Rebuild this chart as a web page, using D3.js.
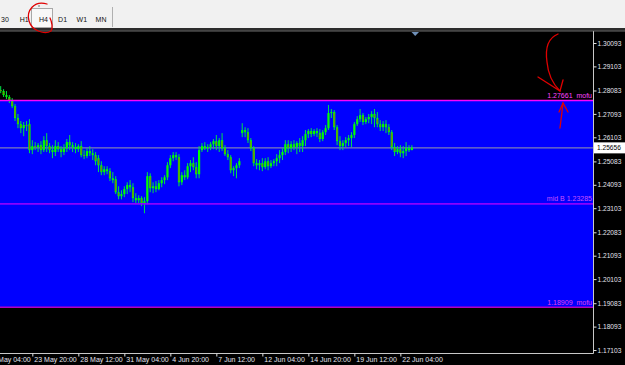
<!DOCTYPE html>
<html>
<head>
<meta charset="utf-8">
<script src="https://cdn.jsdelivr.net/npm/d3@7"></script>
<style>
  body { margin: 0; background: #000; overflow: hidden; }
  svg { display: block; }
  text { font-family: "Liberation Sans", Arial, sans-serif; }
</style>
</head>
<body>
<div id="chart"></div>
<script>
// H4 bars, [open, high, low, close]
const candles = [
  [1.2810, 1.2827, 1.2797, 1.2806], [1.2806, 1.2814, 1.2781, 1.2789], [1.2789, 1.2806, 1.2772, 1.2781],
  [1.2781, 1.2789, 1.2755, 1.2764], [1.2764, 1.2776, 1.2734, 1.2742], [1.2742, 1.2751, 1.2679, 1.2692],
  [1.2692, 1.2709, 1.2649, 1.2666], [1.2666, 1.2679, 1.2628, 1.2649], [1.2649, 1.2675, 1.2615, 1.2662],
  [1.2662, 1.2679, 1.2637, 1.2658], [1.2666, 1.2687, 1.2543, 1.2556], [1.2556, 1.2598, 1.2539, 1.2573],
  [1.2573, 1.2590, 1.2556, 1.2569], [1.2569, 1.2586, 1.2548, 1.2577], [1.2577, 1.2594, 1.2539, 1.2556],
  [1.2556, 1.2615, 1.2548, 1.2598], [1.2598, 1.2628, 1.2548, 1.2573], [1.2573, 1.2586, 1.2543, 1.2556],
  [1.2556, 1.2577, 1.2522, 1.2548], [1.2548, 1.2598, 1.2531, 1.2573], [1.2573, 1.2590, 1.2548, 1.2560],
  [1.2560, 1.2573, 1.2526, 1.2548], [1.2548, 1.2581, 1.2535, 1.2564], [1.2564, 1.2603, 1.2548, 1.2590],
  [1.2590, 1.2620, 1.2556, 1.2577], [1.2577, 1.2590, 1.2548, 1.2569], [1.2569, 1.2586, 1.2543, 1.2560],
  [1.2560, 1.2581, 1.2548, 1.2573], [1.2573, 1.2594, 1.2526, 1.2535], [1.2535, 1.2556, 1.2518, 1.2531],
  [1.2531, 1.2564, 1.2522, 1.2552], [1.2552, 1.2573, 1.2531, 1.2543], [1.2543, 1.2560, 1.2514, 1.2535],
  [1.2535, 1.2548, 1.2492, 1.2509], [1.2522, 1.2535, 1.2463, 1.2492], [1.2492, 1.2509, 1.2450, 1.2463],
  [1.2463, 1.2488, 1.2450, 1.2475], [1.2475, 1.2488, 1.2454, 1.2467], [1.2467, 1.2480, 1.2425, 1.2437],
  [1.2437, 1.2463, 1.2416, 1.2429], [1.2433, 1.2446, 1.2370, 1.2378], [1.2378, 1.2403, 1.2348, 1.2361],
  [1.2361, 1.2386, 1.2348, 1.2370], [1.2370, 1.2403, 1.2357, 1.2391], [1.2391, 1.2420, 1.2370, 1.2408],
  [1.2408, 1.2429, 1.2378, 1.2399], [1.2399, 1.2416, 1.2336, 1.2353], [1.2353, 1.2374, 1.2331, 1.2344],
  [1.2344, 1.2365, 1.2327, 1.2353], [1.2353, 1.2361, 1.2319, 1.2331], [1.2331, 1.2357, 1.2289, 1.2340],
  [1.2340, 1.2463, 1.2327, 1.2446], [1.2446, 1.2458, 1.2378, 1.2395], [1.2395, 1.2420, 1.2374, 1.2403],
  [1.2403, 1.2425, 1.2378, 1.2391], [1.2391, 1.2429, 1.2386, 1.2416], [1.2416, 1.2441, 1.2399, 1.2429],
  [1.2429, 1.2450, 1.2412, 1.2441], [1.2441, 1.2505, 1.2429, 1.2492], [1.2492, 1.2535, 1.2480, 1.2522],
  [1.2522, 1.2548, 1.2509, 1.2535], [1.2535, 1.2548, 1.2514, 1.2526], [1.2526, 1.2539, 1.2403, 1.2420],
  [1.2420, 1.2463, 1.2408, 1.2450], [1.2450, 1.2471, 1.2429, 1.2441], [1.2441, 1.2501, 1.2433, 1.2488],
  [1.2488, 1.2514, 1.2463, 1.2501], [1.2501, 1.2526, 1.2471, 1.2484], [1.2484, 1.2505, 1.2437, 1.2454],
  [1.2454, 1.2573, 1.2437, 1.2556], [1.2556, 1.2586, 1.2548, 1.2573], [1.2573, 1.2590, 1.2556, 1.2564],
  [1.2564, 1.2581, 1.2548, 1.2569], [1.2569, 1.2590, 1.2556, 1.2581], [1.2581, 1.2603, 1.2560, 1.2594],
  [1.2594, 1.2620, 1.2556, 1.2573], [1.2573, 1.2607, 1.2548, 1.2598], [1.2598, 1.2628, 1.2552, 1.2564],
  [1.2564, 1.2577, 1.2531, 1.2539], [1.2539, 1.2556, 1.2514, 1.2526], [1.2526, 1.2535, 1.2458, 1.2471],
  [1.2471, 1.2488, 1.2446, 1.2480], [1.2480, 1.2501, 1.2437, 1.2492], [1.2492, 1.2522, 1.2480, 1.2509],
  [1.2628, 1.2670, 1.2611, 1.2641], [1.2641, 1.2653, 1.2611, 1.2632], [1.2632, 1.2649, 1.2586, 1.2598],
  [1.2598, 1.2607, 1.2552, 1.2564], [1.2564, 1.2573, 1.2488, 1.2501], [1.2501, 1.2518, 1.2475, 1.2492],
  [1.2492, 1.2514, 1.2471, 1.2501], [1.2501, 1.2522, 1.2467, 1.2484], [1.2484, 1.2522, 1.2475, 1.2509],
  [1.2509, 1.2526, 1.2471, 1.2488], [1.2488, 1.2514, 1.2480, 1.2501], [1.2501, 1.2518, 1.2488, 1.2509],
  [1.2509, 1.2539, 1.2488, 1.2522], [1.2522, 1.2556, 1.2501, 1.2535], [1.2535, 1.2564, 1.2514, 1.2548],
  [1.2548, 1.2598, 1.2535, 1.2581], [1.2581, 1.2598, 1.2543, 1.2564], [1.2564, 1.2594, 1.2548, 1.2581],
  [1.2581, 1.2598, 1.2556, 1.2569], [1.2569, 1.2594, 1.2539, 1.2586], [1.2586, 1.2607, 1.2548, 1.2573],
  [1.2573, 1.2615, 1.2548, 1.2598], [1.2598, 1.2641, 1.2573, 1.2624], [1.2624, 1.2645, 1.2607, 1.2637],
  [1.2637, 1.2649, 1.2611, 1.2624], [1.2624, 1.2645, 1.2615, 1.2637], [1.2637, 1.2649, 1.2611, 1.2628],
  [1.2628, 1.2645, 1.2590, 1.2603], [1.2603, 1.2641, 1.2594, 1.2632], [1.2632, 1.2662, 1.2620, 1.2649],
  [1.2649, 1.2747, 1.2641, 1.2713], [1.2713, 1.2730, 1.2692, 1.2717], [1.2717, 1.2725, 1.2641, 1.2653],
  [1.2653, 1.2662, 1.2577, 1.2594], [1.2594, 1.2615, 1.2556, 1.2573], [1.2573, 1.2598, 1.2556, 1.2586],
  [1.2586, 1.2611, 1.2569, 1.2598], [1.2598, 1.2620, 1.2573, 1.2607], [1.2607, 1.2632, 1.2569, 1.2620],
  [1.2620, 1.2675, 1.2607, 1.2666], [1.2666, 1.2700, 1.2658, 1.2687], [1.2687, 1.2730, 1.2675, 1.2704],
  [1.2704, 1.2713, 1.2662, 1.2675], [1.2675, 1.2696, 1.2666, 1.2687], [1.2687, 1.2709, 1.2670, 1.2696],
  [1.2696, 1.2721, 1.2666, 1.2709], [1.2709, 1.2730, 1.2653, 1.2692], [1.2692, 1.2717, 1.2653, 1.2666],
  [1.2666, 1.2683, 1.2637, 1.2653], [1.2653, 1.2679, 1.2637, 1.2666], [1.2666, 1.2683, 1.2628, 1.2653],
  [1.2653, 1.2666, 1.2620, 1.2632], [1.2632, 1.2641, 1.2556, 1.2569], [1.2569, 1.2586, 1.2531, 1.2548],
  [1.2548, 1.2573, 1.2539, 1.2560], [1.2560, 1.2577, 1.2526, 1.2543], [1.2543, 1.2573, 1.2522, 1.2552],
  [1.2552, 1.2590, 1.2531, 1.2564], [1.2564, 1.2577, 1.2548, 1.2556], [1.2556, 1.2577, 1.2556, 1.2566]
];

const priceTicks = [1.30093, 1.29103, 1.28083, 1.27093, 1.26103, 1.25083, 1.24093,
  1.23103, 1.22083, 1.21093, 1.20103, 1.19083, 1.18093, 1.17103];

// bar index of each time label (16 bars apart)
const timeTickBars = [-5, 11, 27, 43, 59, 75, 91, 107, 123, 139];
const timeTickLabels = ["21 May 04:00", "23 May 20:00", "28 May 12:00", "31 May 04:00", "4 Jun 20:00",
  "7 Jun 12:00", "12 Jun 04:00", "14 Jun 20:00", "19 Jun 12:00", "22 Jun 04:00"];

// horizontal objects: top of box, middle, bottom of box
const levelPrices = [1.27661, 1.23285, 1.18909];
const levelLabels = ["1.27661  mofu", "mid B 1.23285", "1.18909  mofu"];

const lastPrice = 1.25656;
const periods = ["30", "H1", "H4", "D1", "W1", "MN"];

const W = 625, H = 365;
const plot = { left: 0, right: 593, top: 31, bottom: 353 };

const svg = d3.select('#chart').append('svg')
  .attr('width', W).attr('height', H);

svg.append('rect').attr('width', W).attr('height', H).attr('fill', '#000');

const x = d3.scaleLinear().domain([0, 206]).range([0.7, 593]);
const y = d3.scaleLinear().domain([1.17103, 1.30093]).range([350, 43]);

svg.append('clipPath').attr('id', 'plotclip')
  .append('rect')
  .attr('x', plot.left).attr('y', plot.top)
  .attr('width', plot.right - plot.left).attr('height', plot.bottom - plot.top);

const g = svg.append('g').attr('clip-path', 'url(#plotclip)');

// blue rectangle between the two outer levels
g.append('rect')
  .attr('x', plot.left)
  .attr('y', y(levelPrices[0]))
  .attr('width', plot.right - plot.left)
  .attr('height', y(levelPrices[2]) - y(levelPrices[0]))
  .attr('fill', '#0000ff');

// bid line
g.append('line')
  .attr('x1', plot.left).attr('x2', plot.right)
  .attr('y1', y(lastPrice)).attr('y2', y(lastPrice))
  .attr('stroke', '#7c7cb8').attr('stroke-width', 1.4);

// candles
const barW = 2.2;
const bars = g.append('g').selectAll('g').data(candles).join('g');
bars.append('line')
  .attr('x1', (d, i) => x(i)).attr('x2', (d, i) => x(i))
  .attr('y1', d => y(d[1])).attr('y2', d => y(d[2]))
  .attr('stroke', '#00e048').attr('stroke-width', 1);
bars.append('rect')
  .attr('x', (d, i) => x(i) - barW / 2)
  .attr('width', barW)
  .attr('y', d => y(Math.max(d[0], d[3])))
  .attr('height', d => Math.max(1, Math.abs(y(d[0]) - y(d[3]))))
  .attr('fill', '#00ff00');
bars.filter(d => d[3] < d[0]).append('line')
  .attr('x1', d => x(candles.indexOf(d)))
  .attr('x2', d => x(candles.indexOf(d)))
  .attr('y1', d => y(d[0]) + 1).attr('y2', d => y(d[3]) - 1)
  .attr('stroke', '#e03000').attr('stroke-width', 0.8).attr('opacity', 0.85);

// level lines and their descriptions
const levelColors = ['#ff00ff', '#8c00ff', '#b400c0'];
const labelColors = ['#ff44ff', '#c850ff', '#e040e8'];
levelPrices.forEach((p, i) => {
  g.append('line')
    .attr('x1', plot.left).attr('x2', plot.right)
    .attr('y1', y(p)).attr('y2', y(p))
    .attr('stroke', levelColors[i]).attr('stroke-width', 1.6);
  g.append('text')
    .attr('x', plot.right - 1).attr('y', y(p) - 2.5)
    .attr('text-anchor', 'end')
    .attr('font-size', 7)
    .attr('fill', labelColors[i])
    .attr('xml:space', 'preserve')
    .text(levelLabels[i]);
});

// frame
svg.append('path')
  .attr('d', `M${plot.right + 0.5},${plot.top}V${plot.bottom + 0.5}H0`)
  .attr('fill', 'none').attr('stroke', '#c8c8c8').attr('stroke-width', 1);

// price axis
const yAxis = svg.append('g')
  .attr('transform', `translate(${plot.right + 0.5},0)`)
  .call(d3.axisRight(y).tickValues(priceTicks).tickFormat(d3.format('.5f')).tickSize(3).tickPadding(1));
yAxis.select('.domain').remove();
yAxis.selectAll('line').attr('stroke', '#e0e0e0');
yAxis.selectAll('text').attr('fill', '#e4e4ee').attr('font-size', 6.6).attr('font-family', null);

// last price tag
svg.append('rect')
  .attr('x', plot.right + 1).attr('y', y(lastPrice) - 5.5)
  .attr('width', W - plot.right - 1).attr('height', 11)
  .attr('fill', '#fff');
svg.append('text')
  .attr('x', plot.right + 4).attr('y', y(lastPrice)).attr('dy', '0.32em')
  .attr('font-size', 6.6).attr('fill', '#000')
  .text(d3.format('.5f')(lastPrice));

// time axis
const xAxis = svg.append('g')
  .attr('transform', `translate(0,${plot.bottom + 0.5})`)
  .call(d3.axisBottom(x).tickValues(timeTickBars)
    .tickFormat((d, i) => timeTickLabels[i]).tickSize(3).tickPadding(1));
xAxis.select('.domain').remove();
xAxis.selectAll('line').attr('stroke', '#e0e0e0');
xAxis.selectAll('text')
  .attr('text-anchor', 'start').attr('dx', 1.5)
  .attr('fill', '#e4e4ee').attr('font-size', 7).attr('font-family', null);

// toolbar
svg.append('rect').attr('width', W).attr('height', 28).attr('fill', '#f1f1f1');
svg.append('rect').attr('y', 28).attr('width', W).attr('height', 2.5).attr('fill', '#2c2c2c');
svg.append('line').attr('x1', 0).attr('x2', W).attr('y1', 31).attr('y2', 31)
  .attr('stroke', '#8a8a8a').attr('stroke-width', 0.8);
svg.append('rect')
  .attr('x', 31.5).attr('y', 8.5).attr('width', 21).attr('height', 19)
  .attr('fill', '#f8f8f8').attr('stroke', '#a8a8a8').attr('stroke-width', 1);
svg.append('line').attr('x1', 112.5).attr('x2', 112.5).attr('y1', 7).attr('y2', 27)
  .attr('stroke', '#b0b0b0');
const periodX = d3.scalePoint().domain(periods).range([5, 101]);
svg.append('g').selectAll('text').data(periods).join('text')
  .attr('x', d => periodX(d)).attr('y', 22)
  .attr('text-anchor', 'middle').attr('font-size', 7).attr('fill', '#111')
  .text(d => d);
svg.append('path').attr('d', 'M39,5V7').attr('stroke', '#777');

// chart shift marker
svg.append('path').attr('d', 'M411.5,32H419L415.2,36Z').attr('fill', '#7090b8');

// hand-drawn red marks
const red = svg.append('g').attr('fill', 'none').attr('stroke', '#e00000')
  .attr('stroke-width', 1.3).attr('stroke-linecap', 'round');
red.append('path').attr('d', 'M47,4C34,0 26,11 29,21C32,31 45,35 51,31C53,28 52,22 50,18');
red.append('path').attr('d', 'M558,34C548,38 545,48 547,62C548,74 553,84 560,91');
red.append('path').attr('d', 'M538,77L560,91L563,80');
red.append('path').attr('d', 'M560,128C561,120 562,112 563,103');
red.append('path').attr('d', 'M559,112L563,103L568,112');
</script>
</body>
</html>
